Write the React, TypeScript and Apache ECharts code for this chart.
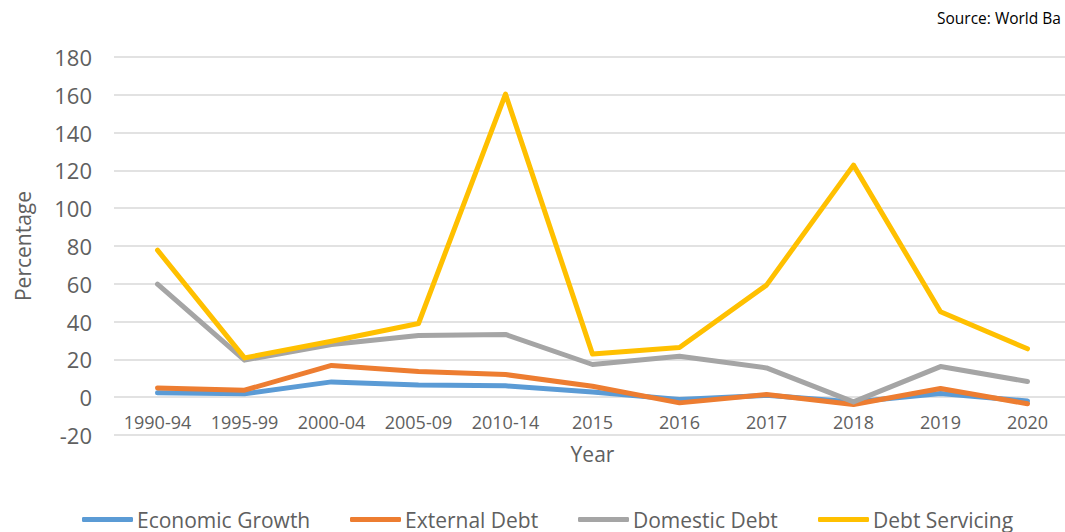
import React, { useEffect, useRef } from "react";
import * as echarts from "echarts";

const categories = ["1990-94", "1995-99", "2000-04", "2005-09", "2010-14", "2015", "2016", "2017", "2018", "2019", "2020"];
const economicGrowth = [2.3, 1.8, 8.1, 6.5, 6.0, 2.8, -1.2, 1.0, -2.5, 2.0, -2.0];
const externalDebt = [4.9, 3.7, 16.8, 13.6, 12.0, 5.8, -3.0, 1.4, -3.9, 4.6, -3.5];
const domesticDebt = [59.8, 19.6, 27.9, 32.7, 33.2, 17.3, 21.7, 15.5, -2.5, 16.2, 8.3];
const debtServicing = [77.8, 20.8, 29.6, 39.0, 160.4, 22.8, 26.3, 59.3, 122.8, 45.2, 25.6];

const seriesNames = ["Economic Growth", "External Debt", "Domestic Debt", "Debt Servicing"];
const seriesData = [economicGrowth, externalDebt, domesticDebt, debtServicing];
const colors = ["#5B9BD5", "#ED7D31", "#A5A5A5", "#FFC000"];
const legendLefts = [82, 350, 578, 818];
const sourceText = "Source: World Ba";

export default function App() {
  const ref = useRef<HTMLDivElement>(null);
  useEffect(() => {
    if (!ref.current) return;
    const chart = echarts.init(ref.current, null, { renderer: "svg" });
    const font = "Open Sans, Lato, sans-serif";
    chart.setOption({
      animation: false,
      backgroundColor: "#ffffff",
      color: colors,
      textStyle: { fontFamily: font },
      graphic: [
        {
          type: "text",
          left: 937,
          top: 10,
          style: { text: sourceText, fontSize: 15.5, fill: "#000000", fontFamily: font },
        },
      ],
      grid: { left: 114, top: 57, width: 957, height: 378, containLabel: false, outerBoundsMode: "none" },
      legend: seriesNames.map((name, i) => ({
        data: [name],
        left: legendLefts[i],
        top: 509,
        padding: 0,
        itemWidth: 51,
        itemHeight: 5,
        itemGap: 0,
        icon: "roundRect",
        textStyle: { fontSize: 21, color: "#606060", fontFamily: font, padding: [0, 0, 0, -1] },
      })),
      xAxis: {
        type: "category",
        data: categories,
        boundaryGap: true,
        name: "Year",
        nameLocation: "middle",
        nameGap: 8,
        nameTextStyle: { fontSize: 21, color: "#606060", verticalAlign: "top" },
        axisLine: { show: false },
        axisTick: { show: false },
        axisLabel: { margin: -22, fontSize: 18, color: "#606060", interval: 0 },
      },
      yAxis: {
        type: "value",
        min: -20,
        max: 180,
        interval: 20,
        name: "Percentage",
        nameLocation: "middle",
        nameGap: 91,
        nameTextStyle: { fontSize: 21, color: "#606060", verticalAlign: "middle" },
        axisLine: { show: false },
        axisTick: { show: false },
        axisLabel: { fontSize: 22, color: "#606060", margin: 22 },
        splitLine: { lineStyle: { color: "#D9D9D9", width: 1.5 } },
      },
      series: seriesNames.map((name, i) => ({
        name,
        type: "line",
        data: seriesData[i],
        symbol: "none",
        lineStyle: { width: 5, color: colors[i], cap: "round", join: "round" },
        itemStyle: { color: colors[i] },
      })),
    });
    return () => chart.dispose();
  }, []);
  return <div ref={ref} style={{ position: "fixed", left: 0, top: 0, width: 1065, height: 532 }} />;
}
